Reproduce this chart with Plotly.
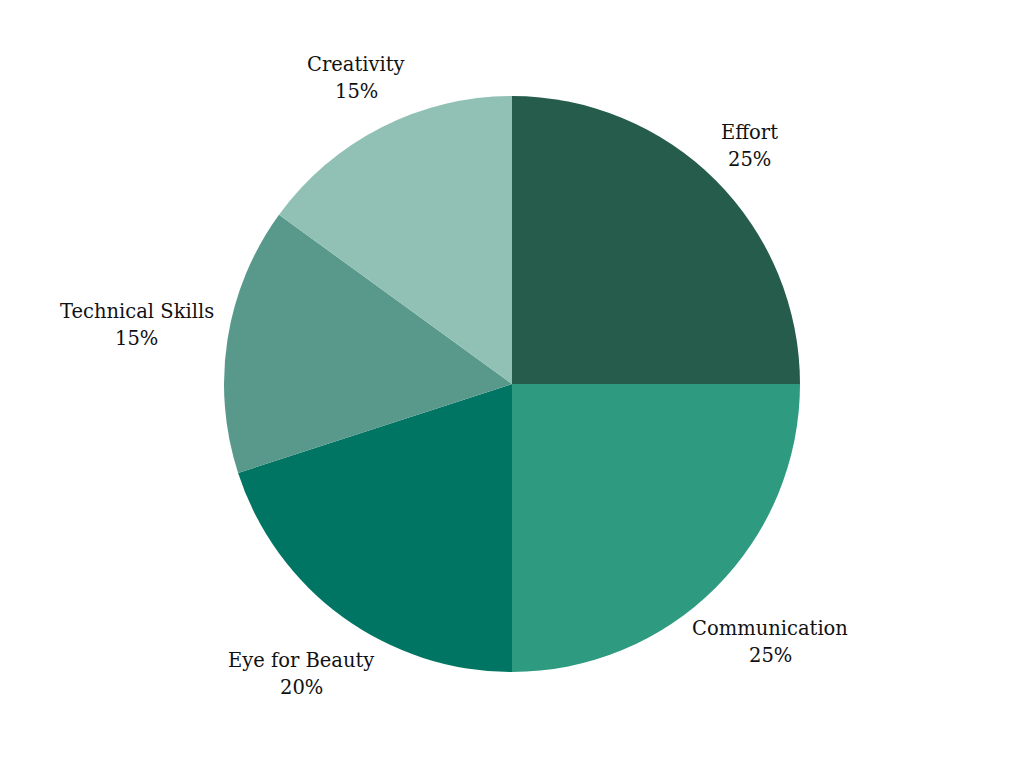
import math
import plotly.graph_objects as go

# criteria weights
labels = ['Effort', 'Communication', 'Eye for Beauty', 'Technical Skills', 'Creativity']
weights = [25, 25, 20, 15, 15]
colors = ['#255C4C', '#2E9A80', '#007563', '#58998C', '#91C1B4']

FONT = 'DejaVu Serif'
FS = 19.5
PIE_PX = 576          # pie diameter in px
LINE_GAP = 27         # px between label line and percent line

fig = go.Figure(go.Pie(
    labels=labels,
    values=weights,
    sort=False,
    direction='clockwise',
    rotation=0,
    marker=dict(colors=colors, line=dict(width=0)),
    textinfo='none',
    showlegend=False,
    hoverinfo='label+percent',
))

# outside labels, centred on the radial line through each slice
total = sum(weights)
start = 0.0
for lab, w in zip(labels, weights):
    mid = (start + w / 2) / total * 2 * math.pi
    start += w
    dx, dy = math.sin(mid), math.cos(mid)
    # rough text box size (wide letters count a bit more)
    half_w = sum(14 if c in 'mwMC' else 10 for c in lab) / 2
    half_h = 25
    dist = PIE_PX / 2 + 9 + abs(dx) * half_w + abs(dy) * half_h
    cx = 0.5 + dist * dx / PIE_PX
    cy = 0.5 + dist * dy / PIE_PX
    off = LINE_GAP / 2 / PIE_PX
    fig.add_annotation(x=cx, y=cy + off, xref='paper', yref='paper', text=lab,
                       showarrow=False, xanchor='center', yanchor='middle',
                       font=dict(family=FONT, size=FS, color='#111111'))
    fig.add_annotation(x=cx, y=cy - off, xref='paper', yref='paper',
                       text=f'{round(w / total * 100)}%',
                       showarrow=False, xanchor='center', yanchor='middle',
                       font=dict(family=FONT, size=FS, color='#111111'))

fig.update_layout(
    width=1024, height=768,
    margin=dict(l=216, r=232, t=88, b=104),
    paper_bgcolor='white',
    plot_bgcolor='white',
)

fig.write_html('out.html')
